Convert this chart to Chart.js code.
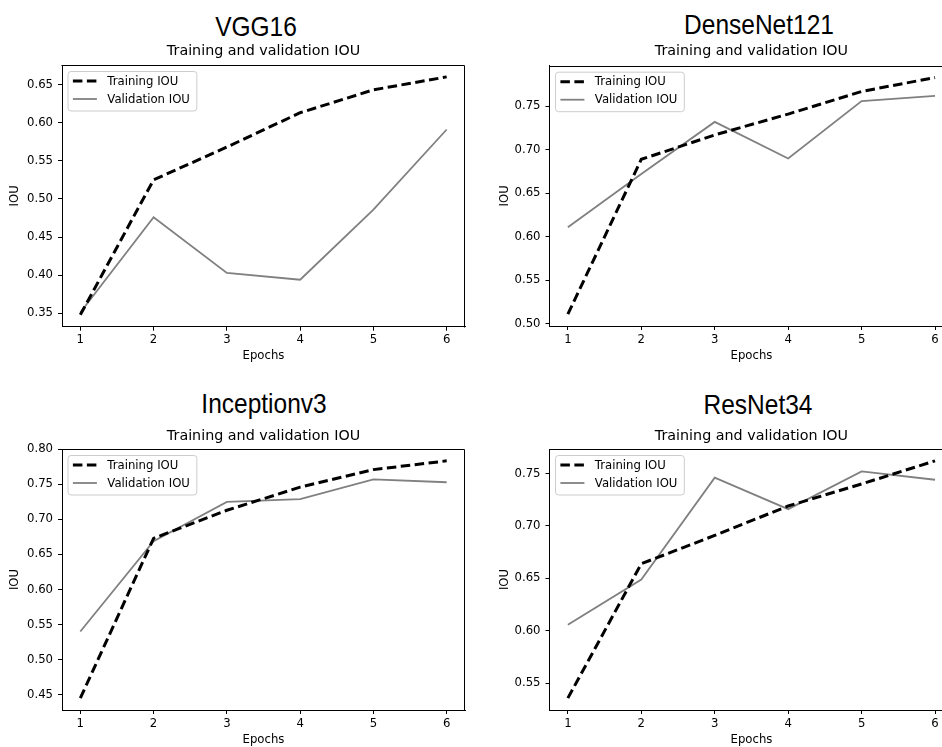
<!DOCTYPE html>
<html>
<head>
<meta charset="utf-8">
<title>Training and validation IOU</title>
<script src="https://cdn.jsdelivr.net/npm/chart.js@4.4.1/dist/chart.umd.min.js"></script>
<style>
  html, body { margin: 0; padding: 0; background: #fff; overflow: hidden; }
  #fig { position: relative; width: 942px; height: 747px; overflow: hidden; background: #fff; }
  #fig canvas { position: absolute; }
  .model {
    position: absolute;
    font-family: "Liberation Sans", Arial, sans-serif;
    font-size: 28px;
    line-height: 1;
    color: #000;
    white-space: nowrap;
    transform: translateX(-50%) scaleX(0.875);
  }
</style>
</head>
<body>
<div id="fig"></div>
<script>
// Epoch numbers shared by every model
const epochs = [1, 2, 3, 4, 5, 6];

// IOU per epoch for each backbone
const vggTrain   = [0.348, 0.525, 0.568, 0.613, 0.643, 0.660];
const vggVal     = [0.351, 0.476, 0.403, 0.394, 0.486, 0.591];
const denseTrain = [0.511, 0.689, 0.717, 0.741, 0.767, 0.783];
const denseVal   = [0.611, 0.672, 0.732, 0.690, 0.756, 0.762];
const incTrain   = [0.445, 0.673, 0.713, 0.746, 0.771, 0.7835];
const incVal     = [0.540, 0.669, 0.725, 0.729, 0.757, 0.753];
const resTrain   = [0.536, 0.664, 0.691, 0.719, 0.740, 0.762];
const resVal     = [0.606, 0.649, 0.746, 0.716, 0.752, 0.744];

// y-axis tick values for each subplot
const vggTicks   = [0.35, 0.40, 0.45, 0.50, 0.55, 0.60, 0.65];
const denseTicks = [0.50, 0.55, 0.60, 0.65, 0.70, 0.75];
const incTicks   = [0.45, 0.50, 0.55, 0.60, 0.65, 0.70, 0.75, 0.80];
const resTicks   = [0.55, 0.60, 0.65, 0.70, 0.75];

const modelNames = ['VGG16', 'DenseNet121', 'Inceptionv3', 'ResNet34'];
const subTitle = 'Training and validation IOU';
const seriesNames = ['Training IOU', 'Validation IOU'];

// Canvas boxes and plot-area geometry per subplot
const layouts = [
  { box: {x: 0,   y: 0,   w: 471, h: 370}, area: {l: 62,   r: 465,   t: 65,   b: 326.7}, subY: 51.7, iouX: 15, epochsY: 356, headX: 256,   headTop: 13 },
  { box: {x: 471, y: 0,   w: 490, h: 370}, area: {l: 78.5, r: 482.4, t: 65.7, b: 326},   subY: 51.7, iouX: 34, epochsY: 356, headX: 759,   headTop: 10.6 },
  { box: {x: 0,   y: 370, w: 471, h: 377}, area: {l: 62,   r: 465,   t: 79,   b: 340},   subY: 66,   iouX: 15, epochsY: 370, headX: 264,   headTop: 390.3 },
  { box: {x: 471, y: 370, w: 490, h: 377}, area: {l: 78.5, r: 482.4, t: 79,   b: 340},   subY: 66,   iouX: 34, epochsY: 370, headX: 757.5, headTop: 390.6 }
];

const series = [
  [vggTrain, vggVal, vggTicks],
  [denseTrain, denseVal, denseTicks],
  [incTrain, incVal, incTicks],
  [resTrain, resVal, resTicks]
];

const TICK_FONT = 11.7;
const TITLE_FONT = 14.3;
const FAMILY = '"DejaVu Sans", Verdana, sans-serif';

// Top and right spines (left and bottom come from the axis borders)
const frame = {
  id: 'frame',
  afterDraw(chart) {
    const {ctx, chartArea: a} = chart;
    ctx.save();
    ctx.strokeStyle = '#000';
    ctx.lineWidth = 1;
    const l = Math.round(a.left) - 0.5, r = Math.round(a.right) - 0.5;
    const t = Math.round(a.top) + 0.5, b = Math.round(a.bottom) + 0.5;
    ctx.beginPath();
    ctx.moveTo(l, t);
    ctx.lineTo(r, t);
    ctx.lineTo(r, b);
    ctx.stroke();
    ctx.restore();
  }
};

// Legend box drawn in the upper-left corner inside the axes
const insideLegend = {
  id: 'insideLegend',
  afterDraw(chart) {
    const {ctx, chartArea: a} = chart;
    const sets = chart.data.datasets;
    ctx.save();
    ctx.font = TICK_FONT + 'px ' + FAMILY;
    const textW = Math.max(...sets.map(d => ctx.measureText(d.label).width));
    const x0 = a.left + 5.5, y0 = a.top + 6;
    const handleX = x0 + 5.4, handleLen = 24, textX = handleX + handleLen + 10.4;
    const w = textX - x0 + textW + 6.4, h = 39.5;
    ctx.beginPath();
    ctx.roundRect(x0 + 0.5, y0 + 0.5, w, h, 3);
    ctx.fillStyle = 'rgba(255,255,255,0.8)';
    ctx.fill();
    ctx.strokeStyle = '#cccccc';
    ctx.lineWidth = 1;
    ctx.stroke();
    sets.forEach((d, i) => {
      const cy = y0 + 10 + i * 18;
      ctx.beginPath();
      ctx.setLineDash(d.borderDash || []);
      ctx.lineCap = 'butt';
      ctx.strokeStyle = d.borderColor;
      ctx.lineWidth = d.borderWidth;
      ctx.moveTo(handleX, cy);
      ctx.lineTo(handleX + handleLen, cy);
      ctx.stroke();
      ctx.setLineDash([]);
      ctx.fillStyle = '#000';
      ctx.textBaseline = 'middle';
      ctx.textAlign = 'left';
      ctx.fillText(d.label, textX, cy + 0.5);
    });
    ctx.restore();
  }
};

const fig = document.getElementById('fig');

layouts.forEach((L, k) => {
  const [train, val, yTicks] = series[k];

  const head = document.createElement('div');
  head.className = 'model';
  head.textContent = modelNames[k];
  head.style.left = L.headX + 'px';
  head.style.top = L.headTop + 'px';
  fig.appendChild(head);

  const cv = document.createElement('canvas');
  cv.width = L.box.w; cv.height = L.box.h;
  cv.style.left = L.box.x + 'px'; cv.style.top = L.box.y + 'px';
  cv.style.width = L.box.w + 'px'; cv.style.height = L.box.h + 'px';
  fig.appendChild(cv);

  // matplotlib-style 5% margins around the data
  const all = train.concat(val);
  const lo = Math.min(...all), hi = Math.max(...all), span = hi - lo;
  const xSpan = epochs[epochs.length - 1] - epochs[0];

  const tickGrid = { display: true, drawOnChartArea: false, drawTicks: true, tickLength: 4, tickColor: '#000', tickWidth: 1 };

  new Chart(cv, {
    type: 'line',
    data: {
      datasets: [
        {
          label: seriesNames[0],
          data: epochs.map((e, i) => ({x: e, y: train[i]})),
          borderColor: '#000', borderWidth: 3, borderDash: [9.5, 4.5],
          pointRadius: 0, tension: 0, fill: false
        },
        {
          label: seriesNames[1],
          data: epochs.map((e, i) => ({x: e, y: val[i]})),
          borderColor: '#808080', borderWidth: 1.8,
          pointRadius: 0, tension: 0, fill: false
        }
      ]
    },
    options: {
      responsive: false,
      animation: false,
      devicePixelRatio: 1,
      events: [],
      layout: { padding: { left: 0, right: L.box.w - L.area.r, top: 0, bottom: 0 } },
      plugins: {
        legend: { display: false },
        tooltip: { enabled: false },
        title: {
          display: true, text: subTitle, fullSize: false, color: '#000',
          font: { family: FAMILY, size: TITLE_FONT, weight: 'normal' },
          padding: { top: L.subY - TITLE_FONT * 0.6, bottom: L.area.t - L.subY - TITLE_FONT * 0.6 }
        }
      },
      scales: {
        x: {
          type: 'linear',
          min: epochs[0] - 0.05 * xSpan,
          max: epochs[epochs.length - 1] + 0.05 * xSpan,
          afterBuildTicks: s => { s.ticks = epochs.map(v => ({value: v})); },
          afterFit: s => { s.height = L.box.h - L.area.b; },
          ticks: { autoSkip: false, maxRotation: 0, padding: 2.5, color: '#000',
                   font: { family: FAMILY, size: TICK_FONT }, callback: v => String(v) },
          grid: tickGrid,
          border: { display: true, color: '#000', width: 1 },
          title: { display: true, text: 'Epochs', color: '#000',
                   font: { family: FAMILY, size: TICK_FONT },
                   padding: { top: 0, bottom: L.box.h - L.epochsY - TICK_FONT * 0.6 } }
        },
        y: {
          type: 'linear',
          min: lo - 0.05 * span,
          max: hi + 0.05 * span,
          afterBuildTicks: s => { s.ticks = yTicks.map(v => ({value: v})); },
          afterFit: s => { s.width = L.area.l; },
          ticks: { autoSkip: false, padding: 5, color: '#000',
                   font: { family: FAMILY, size: TICK_FONT }, callback: v => Number(v).toFixed(2) },
          grid: tickGrid,
          border: { display: true, color: '#000', width: 1 },
          title: { display: true, text: 'IOU', color: '#000',
                   font: { family: FAMILY, size: TICK_FONT },
                   padding: { top: L.iouX - TICK_FONT * 0.6, bottom: 0 } }
        }
      }
    },
    plugins: [frame, insideLegend]
  });
});
</script>
</body>
</html>
